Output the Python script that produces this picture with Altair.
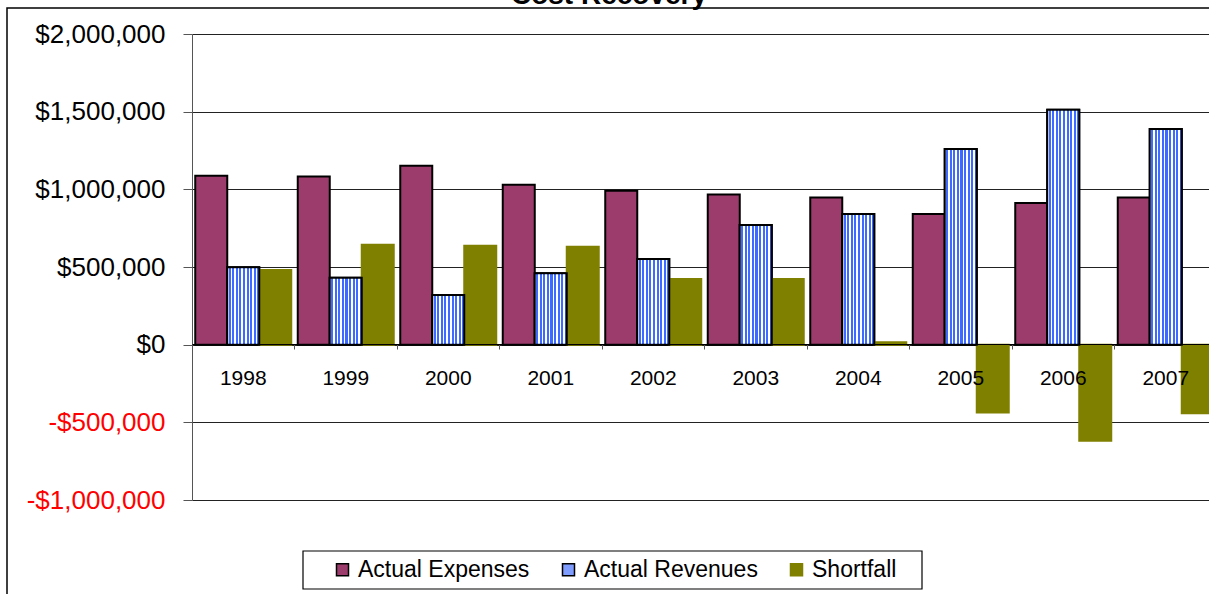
import altair as alt
import pandas as pd

years = ["1998", "1999", "2000", "2001", "2002", "2003", "2004", "2005", "2006", "2007"]
expenses = [1088000, 1082000, 1152000, 1030000, 991000, 966000, 948000, 841000, 912000, 948000]
revenues = [498000, 431000, 320000, 459000, 552000, 770000, 841000, 1260000, 1513000, 1389000]
shortfall = [481000, 644000, 637000, 631000, 423000, 423000, 15000, -436000, -618000, -442000]
series_names = ["Actual Expenses", "Actual Revenues", "Shortfall"]
y_ticks = [-1000000, -500000, 0, 500000, 1000000, 1500000, 2000000]

fill_colors = ["#9C3C6C", "#7F9CFF", "#808000"]
stroke_colors = ["#000000", "#000000", "#808000"]
BLUE = "#3D6BFF"
FONT = "Liberation Sans"

rows = []
for i, yr in enumerate(years):
    for name, vals in zip(series_names, [expenses, revenues, shortfall]):
        rows.append({"year": yr, "series": name, "value": vals[i]})
df = pd.DataFrame(rows)

x_enc = alt.X(
    "year:N",
    sort=years,
    scale=alt.Scale(range=[0, 1025], paddingInner=0, paddingOuter=0),
    axis=alt.Axis(
        title=None, orient="bottom", offset=-156, bandPosition=0, labelOffset=0,
        labelAngle=0, labelFontSize=21, labelFont=FONT, labelColor="#000000",
        labelPadding=29, labelBaseline="middle", tickSize=5, tickColor="#555555",
        domainColor="#000000", domainWidth=1.2, zindex=1, grid=False,
    ),
)
xoff_enc = alt.XOffset(
    "series:N",
    scale=alt.Scale(domain=series_names, paddingInner=0, paddingOuter=0.1016),
)
y_enc = alt.Y(
    "value:Q",
    scale=alt.Scale(domain=[-1000000, 2000000], nice=False, zero=True),
    axis=alt.Axis(
        title=None, values=y_ticks,
        labelExpr="datum.value < 0 ? '-$' + format(-datum.value, ',') : '$' + format(datum.value, ',')",
        labelColor={"condition": {"test": "datum.value < 0", "value": "#FF0000"}, "value": "#000000"},
        labelFontSize=26, labelFont=FONT, labelPadding=18, tickSize=9,
        tickColor="#555555", domainColor="#555555", gridColor="#222222", gridWidth=1, grid=True,
    ),
)

legend = alt.Legend(
    title=None, orient="none", legendX=139, legendY=524, direction="horizontal",
    symbolType="square", symbolSize=144, labelFontSize=23, labelFont=FONT, labelLimit=400,
    labelColor="#000000", columnPadding=27, symbolStrokeWidth=1.5, labelOffset=4, padding=0,
)

bars = alt.Chart(df).mark_bar(strokeWidth=2).encode(
    x=x_enc,
    xOffset=xoff_enc,
    y=y_enc,
    y2=alt.datum(0),
    color=alt.Color("series:N", scale=alt.Scale(domain=series_names, range=fill_colors), legend=legend),
    stroke=alt.Stroke("series:N", scale=alt.Scale(domain=series_names, range=stroke_colors), legend=legend),
)

stops = []
n_stripes = 9
white_frac = 0.42
for i in range(n_stripes):
    a = i / n_stripes
    b = (i + white_frac) / n_stripes
    c = (i + 1) / n_stripes
    stops += [
        {"offset": a, "color": "#FFFFFF"},
        {"offset": b, "color": "#FFFFFF"},
        {"offset": b, "color": BLUE},
        {"offset": c, "color": BLUE},
    ]
stripe_fill = {"gradient": "linear", "x1": 0, "x2": 1, "y1": 0, "y2": 0, "stops": stops}

rev = alt.Chart(df).transform_filter("datum.series == 'Actual Revenues'").mark_bar(
    fill=stripe_fill, stroke="#000000", strokeWidth=2
).encode(x=x_enc, xOffset=xoff_enc, y=y_enc, y2=alt.datum(0))

one = alt.Data(values=[{"k": 1}])
frame = alt.Chart(one).mark_rect(fill="transparent", stroke="#000000", strokeWidth=1.5).encode(
    x=alt.value(-185), y=alt.value(-26), x2=alt.value(1200), y2=alt.value(700)
)
legend_box = alt.Chart(one).mark_rect(fill="#FFFFFF", stroke="#000000", strokeWidth=1.2).encode(
    x=alt.value(111), y=alt.value(517), x2=alt.value(730), y2=alt.value(555)
)
title = alt.Chart(one).mark_text(
    text="Cost Recovery", font=FONT, fontSize=28, fontWeight="bold",
    align="center", baseline="alphabetic", color="#000000"
).encode(x=alt.value(417), y=alt.value(-30.5))

chart = alt.layer(frame, legend_box, bars, rev, title).properties(
    width=1017, height=466,
    padding={"left": 192, "top": 34, "right": 0, "bottom": 94},
    autosize="none",
    background="#FFFFFF",
).configure_view(strokeWidth=0)

chart.save("out.html", embed_options={"renderer": "svg", "actions": False})
